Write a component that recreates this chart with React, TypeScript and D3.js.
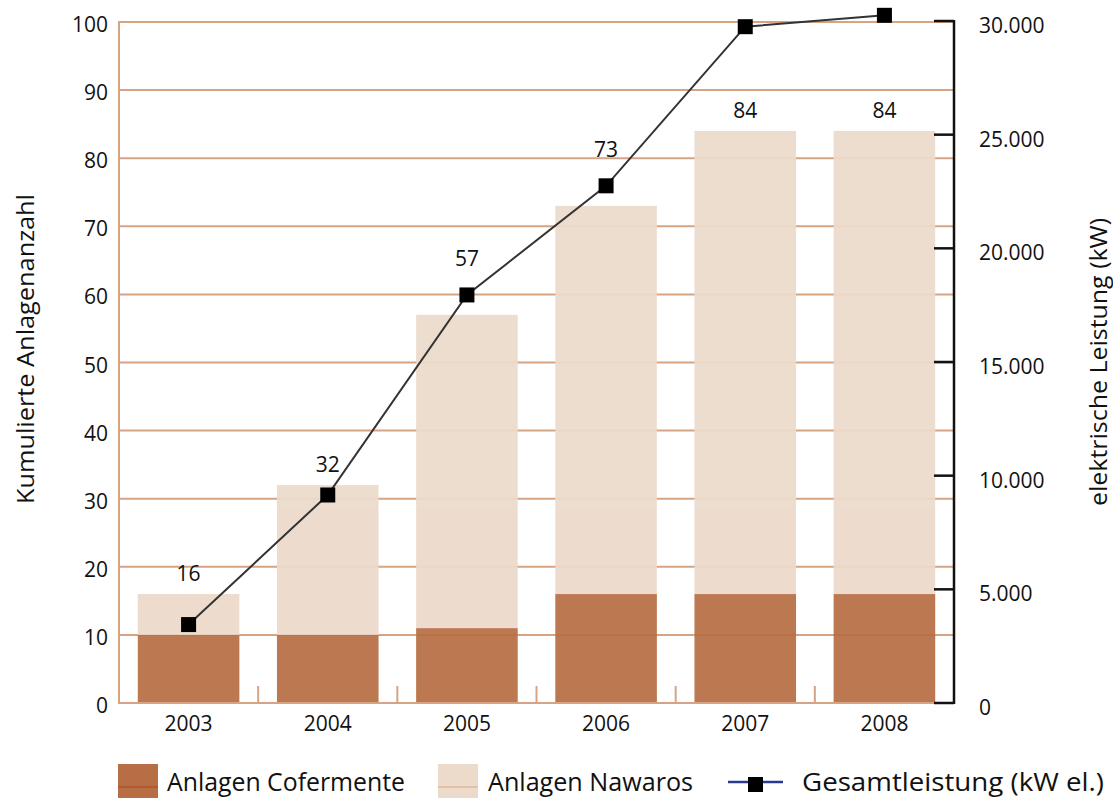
import React from "react";
import * as d3 from "d3";

const years = ["2003", "2004", "2005", "2006", "2007", "2008"];
const cofermente = [10, 10, 11, 16, 16, 16];
const nawaros = [6, 22, 46, 57, 68, 68];
const totals = [16, 32, 57, 73, 84, 84];
const leistung = [3450, 9150, 17950, 22750, 29750, 30250];
const leftTicks = [0, 10, 20, 30, 40, 50, 60, 70, 80, 90, 100];
const rightTicks = [0, 5000, 10000, 15000, 20000, 25000, 30000];

const W = 1113;
const H = 798;
const x0 = 119;
const x1 = 954;
const yBottom = 703;
const yTop = 22;

const COL_COF = "#b86e44";
const COL_NAW = "#ecdacb";
const COL_GRID = "#d6a482";
const FONT = "'Open Sans', 'Noto Sans', sans-serif";

export default function App() {
  const x = d3.scaleBand<string>().domain(years).range([x0, x1]).paddingInner(0.27).paddingOuter(0.135);
  const band = d3.scaleBand<string>().domain(years).range([x0, x1]);
  const yL = d3.scaleLinear().domain([0, 100]).range([yBottom, yTop]);
  const yR = d3.scaleLinear().domain([0, 30000]).range([yBottom, 21]);
  const cx = (i: number) => (x(years[i]) as number) + x.bandwidth() / 2;
  const line = d3
    .line<number>()
    .x((_, i) => cx(i))
    .y((d) => yR(d));
  const fmt = (v: number) => (v === 0 ? "0" : d3.format(",")(v).replace(/,/g, "."));
  const ms = 15;

  return (
    <svg width={W} height={H} style={{ position: "absolute", left: 0, top: 0 }} fontFamily={FONT}>
      {/* gridlines */}
      {leftTicks.slice(1).map((t) => (
        <line key={"g" + t} x1={x0} x2={x1} y1={yL(t)} y2={yL(t)} stroke={COL_GRID} strokeWidth={2} />
      ))}
      {/* bars */}
      {years.map((yr, i) => (
        <g key={"b" + yr} opacity={0.93}>
          <rect x={x(yr)} width={x.bandwidth()} y={yL(cofermente[i])} height={yL(0) - yL(cofermente[i])} fill={COL_COF} />
          <rect
            x={x(yr)}
            width={x.bandwidth()}
            y={yL(cofermente[i] + nawaros[i])}
            height={yL(cofermente[i]) - yL(cofermente[i] + nawaros[i])}
            fill={COL_NAW}
          />
        </g>
      ))}
      {/* left axis */}
      <line x1={x0} x2={x0} y1={yTop - 1} y2={yBottom + 1} stroke={COL_GRID} strokeWidth={2} />
      <line x1={x0 - 1} x2={x1} y1={yBottom} y2={yBottom} stroke={COL_GRID} strokeWidth={2} />
      {years.slice(1).map((yr) => (
        <line key={"xt" + yr} x1={band(yr)} x2={band(yr)} y1={yBottom} y2={yBottom - 17} stroke={COL_GRID} strokeWidth={2} />
      ))}
      {leftTicks.map((t) => (
        <text key={"lt" + t} x={108} y={yL(t) + 10} textAnchor="end" fontSize={21} fill="#111">
          {t}
        </text>
      ))}
      {/* right axis */}
      <line x1={x1} x2={x1} y1={yR(30000) - 1} y2={yR(0) + 1} stroke="#111" strokeWidth={2.5} />
      {rightTicks.map((t) => (
        <g key={"rt" + t}>
          <line x1={x1 - 20} x2={x1} y1={yR(t)} y2={yR(t)} stroke="#111" strokeWidth={2.5} />
          <text x={979} y={yR(t) + 12} fontSize={21} fill="#111">
            {fmt(t)}
          </text>
        </g>
      ))}
      {/* x labels */}
      {years.map((yr, i) => (
        <text key={"xl" + yr} x={cx(i)} y={731} textAnchor="middle" fontSize={21} fill="#111">
          {yr}
        </text>
      ))}
      {/* line */}
      <path d={line(leistung) as string} fill="none" stroke="#333" strokeWidth={2} />
      {leistung.map((v, i) => (
        <rect key={"m" + i} x={cx(i) - ms / 2} y={yR(v) - ms / 2} width={ms} height={ms} fill="#000" />
      ))}
      {/* value labels: above the bar, or above the marker when it sits just over the bar */}
      {years.map((yr, i) => {
        const barTop = yL(totals[i]);
        const mTop = yR(leistung[i]) - ms / 2;
        const useMarker = mTop < barTop && barTop - mTop < 60;
        const yPos = useMarker ? mTop - 21 : barTop - 13;
        return (
          <text key={"vl" + yr} x={cx(i)} y={yPos} textAnchor="middle" fontSize={21} fill="#111">
            {totals[i]}
          </text>
        );
      })}
      {/* axis titles */}
      <text
        transform={`translate(34,349) rotate(-90)`}
        textAnchor="middle"
        fontSize={24}
        textLength={310}
        lengthAdjust="spacingAndGlyphs"
        fill="#111"
      >
        Kumulierte Anlagenanzahl
      </text>
      <text
        transform={`translate(1107,362) rotate(-90)`}
        textAnchor="middle"
        fontSize={24}
        textLength={288}
        lengthAdjust="spacingAndGlyphs"
        fill="#111"
      >
        elektrische Leistung (kW)
      </text>
      {/* legend */}
      <rect x={118} y={764} width={40} height={34} fill={COL_COF} />
      <line x1={118} x2={158} y1={787} y2={787} stroke="#b0562c" strokeWidth={1.5} />
      <text x={167} y={791} fontSize={26} textLength={238} lengthAdjust="spacingAndGlyphs" fill="#111">
        Anlagen Cofermente
      </text>
      <rect x={438} y={764} width={40} height={34} fill={COL_NAW} />
      <line x1={438} x2={478} y1={787} y2={787} stroke="#dfb99c" strokeWidth={1.5} />
      <text x={488} y={791} fontSize={26} textLength={205} lengthAdjust="spacingAndGlyphs" fill="#111">
        Anlagen Nawaros
      </text>
      <line x1={728} x2={783} y1={782} y2={782} stroke="#2b3990" strokeWidth={2.5} />
      <rect x={748} y={777} width={15} height={15} fill="#000" />
      <text x={802} y={791} fontSize={26} textLength={302} lengthAdjust="spacingAndGlyphs" fill="#111">
        Gesamtleistung (kW el.)
      </text>
    </svg>
  );
}
